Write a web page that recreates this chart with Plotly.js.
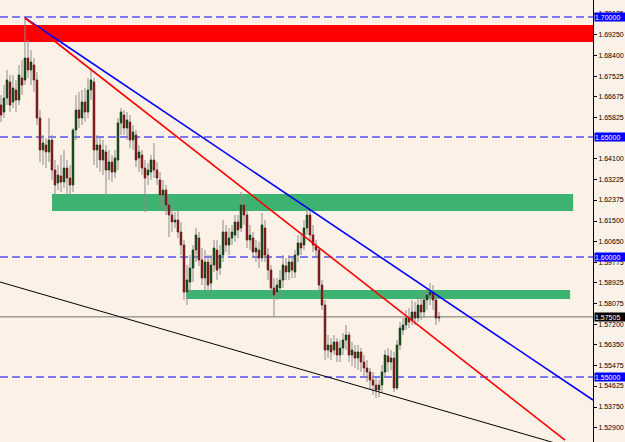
<!DOCTYPE html>
<html>
<head>
<meta charset="utf-8">
<script src="https://cdn.plot.ly/plotly-3.0.1.min.js"></script>
<style>
  html, body { margin: 0; padding: 0; background: #fbf1e6; }
  #chart { width: 625px; height: 442px; }
</style>
</head>
<body>
<div id="chart"></div>
<script>
// ---- Candle data (bar index, OHLC prices) ----
const openP = [1.66333,1.66041,1.66625,1.67291,1.66458,1.66958,1.66541,1.67458,1.67375,1.68291,
1.67791,1.68000,1.67375,1.65791,1.64458,1.64666,1.64375,1.64875,1.63625,1.63083,
1.63375,1.63125,1.63708,1.63291,1.63000,1.65291,1.66125,1.65791,1.66458,1.66041,
1.66958,1.67291,1.64458,1.64666,1.64041,1.64375,1.63625,1.63958,1.63541,1.64041,
1.65583,1.65916,1.65375,1.65625,1.64875,1.65083,1.64125,1.64250,1.63708,1.63416,
1.63541,1.64041,1.63625,1.63208,1.62583,1.62791,1.62166,1.61750,1.61458,1.61541,
1.61041,1.60500,1.58541,1.58958,1.59541,1.60291,1.60791,1.59875,1.59125,1.59791,
1.58916,1.59666,1.60291,1.59541,1.60083,1.61041,1.60500,1.60791,1.60916,1.61458,
1.61208,1.62166,1.61750,1.60708,1.60791,1.60208,1.60291,1.59958,1.61208,1.60083,
1.59458,1.58708,1.58541,1.58708,1.59041,1.59625,1.59375,1.59791,1.59375,1.60083,
1.60583,1.60500,1.61208,1.61750,1.60916,1.60500,1.60291,1.58833,1.58000,1.56125,
1.56333,1.56125,1.56458,1.55916,1.56208,1.56541,1.56750,1.55916,1.56041,1.55791,
1.56041,1.55625,1.55375,1.55208,1.54875,1.54666,1.54458,1.54666,1.55208,1.55875,
1.55625,1.55791,1.54541,1.56333,1.56958,1.57166,1.57458,1.57375,1.57708,1.57458,
1.58000,1.57708,1.58208,1.58416,1.58541,1.58208,1.57458];
const highP = [1.66750,1.67166,1.67791,1.67583,1.67583,1.67375,1.68000,1.68208,1.69958,1.69041,
1.68625,1.68291,1.67708,1.66125,1.65083,1.64958,1.65791,1.65083,1.64041,1.63833,
1.64250,1.64458,1.64041,1.63833,1.65375,1.66750,1.66875,1.66958,1.67041,1.67458,
1.67875,1.67458,1.65083,1.64958,1.64875,1.64666,1.64458,1.64250,1.64458,1.65791,
1.66208,1.66125,1.66041,1.65916,1.65500,1.65291,1.64666,1.64458,1.64041,1.63916,
1.64250,1.64750,1.63958,1.63541,1.63208,1.63000,1.62458,1.62375,1.61875,1.61958,
1.61458,1.60708,1.59666,1.60083,1.60500,1.61208,1.61041,1.60375,1.60291,1.60083,
1.60083,1.60708,1.60708,1.60500,1.61541,1.61333,1.61208,1.61333,1.61750,1.61750,
1.62708,1.62458,1.61958,1.61333,1.61041,1.60708,1.60625,1.61833,1.61541,1.60375,
1.59666,1.59125,1.59125,1.59458,1.60083,1.59958,1.60083,1.59958,1.60291,1.60916,
1.60916,1.61541,1.61958,1.61958,1.61333,1.60708,1.60375,1.59041,1.58208,1.56750,
1.56625,1.56750,1.56625,1.56541,1.56833,1.57166,1.56875,1.56458,1.56333,1.56333,
1.56208,1.55916,1.55708,1.55375,1.55208,1.54958,1.54875,1.55500,1.56125,1.56208,
1.56125,1.56041,1.56541,1.57291,1.57458,1.57791,1.57875,1.58208,1.58125,1.58291,
1.58416,1.58541,1.58708,1.58916,1.58833,1.58416,1.57708];
const lowP = [1.65625,1.65791,1.66333,1.66041,1.66208,1.66041,1.66333,1.66750,1.67166,1.67458,
1.67166,1.66875,1.65500,1.63958,1.63833,1.63708,1.63958,1.63208,1.62625,1.62791,
1.62708,1.62875,1.62583,1.62541,1.62708,1.64875,1.65375,1.65500,1.65625,1.65791,
1.66541,1.63833,1.63708,1.63541,1.63416,1.62500,1.63208,1.63125,1.63291,1.63625,
1.65083,1.65083,1.64875,1.64541,1.64458,1.63750,1.63541,1.63416,1.61875,1.63000,
1.63208,1.63291,1.63000,1.62166,1.61958,1.61750,1.60833,1.61041,1.61208,1.60791,
1.60083,1.58208,1.58000,1.58416,1.58958,1.59791,1.59625,1.58833,1.58625,1.58416,
1.58625,1.59375,1.59041,1.59250,1.59791,1.60208,1.60083,1.60500,1.60625,1.60791,
1.61041,1.61333,1.60375,1.60291,1.59958,1.59791,1.59541,1.59791,1.59791,1.59041,
1.58416,1.57500,1.58208,1.58375,1.58708,1.59041,1.59041,1.59125,1.59125,1.59791,
1.60083,1.60291,1.60916,1.60625,1.60208,1.59958,1.58625,1.57791,1.55708,1.55791,
1.55708,1.55916,1.55625,1.55625,1.55916,1.56125,1.55625,1.55458,1.55375,1.55291,
1.55208,1.54958,1.54791,1.54458,1.54250,1.54125,1.54166,1.54375,1.54958,1.55208,
1.55291,1.54375,1.54458,1.56125,1.56750,1.56958,1.57041,1.57166,1.57166,1.57291,
1.57375,1.57458,1.57791,1.58000,1.57791,1.57166,1.57291];
const closeP = [1.65916,1.66625,1.67375,1.66333,1.67041,1.66541,1.67583,1.67166,1.68291,1.67791,
1.68125,1.67375,1.65791,1.64458,1.64750,1.64375,1.64875,1.63625,1.63000,1.63416,
1.63125,1.63708,1.63291,1.63000,1.65291,1.66125,1.65791,1.66458,1.66041,1.66958,
1.67375,1.64458,1.64666,1.64041,1.64458,1.63625,1.63958,1.63541,1.64125,1.65583,
1.66041,1.65375,1.65708,1.64875,1.65208,1.64041,1.64375,1.63708,1.63291,1.63625,
1.64041,1.63625,1.63291,1.62583,1.62791,1.62166,1.61750,1.61458,1.61541,1.61041,
1.60500,1.58541,1.59041,1.59541,1.60291,1.60916,1.59875,1.59125,1.59791,1.58833,
1.59666,1.60375,1.59458,1.60083,1.61041,1.60500,1.60791,1.61041,1.61458,1.61125,
1.62166,1.61750,1.60708,1.60916,1.60208,1.60375,1.59958,1.61333,1.60083,1.59458,
1.58708,1.58416,1.58833,1.59041,1.59666,1.59375,1.59791,1.59458,1.60083,1.60583,
1.60375,1.61208,1.61750,1.60916,1.60500,1.60291,1.58833,1.58000,1.56125,1.56333,
1.56041,1.56458,1.55916,1.56208,1.56541,1.56750,1.55916,1.56125,1.55791,1.56041,
1.55625,1.55375,1.55208,1.54875,1.54666,1.54458,1.54666,1.55208,1.55916,1.55625,
1.55791,1.54541,1.56333,1.57041,1.57166,1.57458,1.57291,1.57708,1.57458,1.58000,
1.57708,1.58208,1.58416,1.58541,1.58208,1.57458,1.57505];
const barIndex = openP.map((_, i) => i);

// ---- Price axis ----
const yRange = [1.52292, 1.70708];
const xRange = [-0.33, 197.33];
const tickValues = [1.70125,1.69250,1.68400,1.67525,1.66675,1.65825,1.64100,1.63225,1.62375,1.61500,
1.60650,1.59775,1.58925,1.58075,1.57200,1.56350,1.55475,1.54625,1.53750,1.52900];
const tickLabels = tickValues.map(v => v.toFixed(5));

// ---- Drawn objects ----
const levelLines = [1.70000, 1.65000, 1.60000, 1.55000];   // dashed blue levels
const currentPrice = 1.57505;
const redZone = [1.68958, 1.69667];
const greenZone1 = {x: [17, 190.7], y: [1.61917, 1.62625]};
const greenZone2 = {x: [61.7, 189.7], y: [1.58250, 1.58625]};
const blueTrend = {x: [8, 197.33], y: [1.69958, 1.54041]};
const redTrend = {x: [8, 188], y: [1.69958, 1.52375]};
const blackTrend = {x: [-0.33, 197.33], y: [1.58958, 1.51791]};

const shapes = [];
shapes.push({type:'rect', xref:'paper', yref:'y', x0:0, x1:1, y0:redZone[0], y1:redZone[1],
  fillcolor:'#ff0000', line:{width:0}, layer:'below'});
[greenZone1, greenZone2].forEach(z => shapes.push({type:'rect', xref:'x', yref:'y',
  x0:z.x[0], x1:z.x[1], y0:z.y[0], y1:z.y[1], fillcolor:'#3cb371', line:{width:0}, layer:'below'}));
levelLines.forEach(v => shapes.push({type:'line', xref:'paper', yref:'y', x0:0, x1:1, y0:v, y1:v,
  line:{color:'#0000ff', width:1, dash:'8px,4px'}, layer:'below'}));
shapes.push({type:'line', xref:'paper', yref:'y', x0:0, x1:1, y0:currentPrice, y1:currentPrice,
  line:{color:'#707070', width:1}, layer:'below'});
[[blueTrend,'#0000ff',1.6],[redTrend,'#ff0000',1.6],[blackTrend,'#000000',1]].forEach(([t,c,w]) =>
  shapes.push({type:'line', xref:'x', yref:'y', x0:t.x[0], x1:t.x[1], y0:t.y[0], y1:t.y[1],
    line:{color:c, width:w}}));

const labelFont = {family:'Liberation Sans, Arial, sans-serif', size:7, color:'#ffffff'};
const annotations = levelLines.map(v => ({xref:'paper', yref:'y', x:1, y:v, xanchor:'left', yanchor:'middle',
  xshift:1, text:v.toFixed(5), showarrow:false, bgcolor:'#0000ff', borderpad:0, width:30, height:8, align:'left',
  font:labelFont}));
annotations.push({xref:'paper', yref:'y', x:1, y:currentPrice, xanchor:'left', yanchor:'middle',
  xshift:1, text:currentPrice.toFixed(5), showarrow:false, bgcolor:'#000000', borderpad:0, width:30, height:8, align:'left',
  font:labelFont});

// wicks (gray full-range candles)
const wickTrace = {
  type:'candlestick', x:barIndex, open:openP, high:highP, low:lowP, close:closeP,
  increasing:{line:{color:'#8c8c8c', width:1}, fillcolor:'#8c8c8c'},
  decreasing:{line:{color:'#8c8c8c', width:1}, fillcolor:'#8c8c8c'},
  whiskerwidth:0, hoverinfo:'skip', showlegend:false
};
// coloured bodies on top (body range only)
const bodyTop = openP.map((o, i) => Math.max(o, closeP[i]));
const bodyBottom = openP.map((o, i) => Math.min(o, closeP[i]));
const bodyTrace = {
  type:'candlestick', x:barIndex, open:openP, high:bodyTop, low:bodyBottom, close:closeP,
  increasing:{line:{color:'#0a3d0a', width:0.6}, fillcolor:'#0a3d0a'},
  decreasing:{line:{color:'#7a0a0a', width:0.6}, fillcolor:'#7a0a0a'},
  whiskerwidth:0, hoverinfo:'skip', showlegend:false
};

const layout = {
  width:625, height:442,
  margin:{l:0, r:32, t:0, b:0, pad:0},
  paper_bgcolor:'#fbf1e6', plot_bgcolor:'#fbf1e6',
  showlegend:false, hovermode:false, boxmode:'overlay',
  xaxis:{range:xRange, visible:false, rangeslider:{visible:false}, fixedrange:true},
  yaxis:{range:yRange, side:'right', showgrid:false, zeroline:false, showline:true, linecolor:'#000000', linewidth:1,
    tickmode:'array', tickvals:tickValues, ticktext:tickLabels, ticks:'outside', ticklen:3, tickcolor:'#000000',
    tickfont:{family:'Liberation Sans, Arial, sans-serif', size:7, color:'#000000'}, fixedrange:true},
  shapes:shapes, annotations:annotations
};

Plotly.newPlot('chart', [wickTrace, bodyTrace], layout, {displayModeBar:false, staticPlot:true});
</script>
</body>
</html>
